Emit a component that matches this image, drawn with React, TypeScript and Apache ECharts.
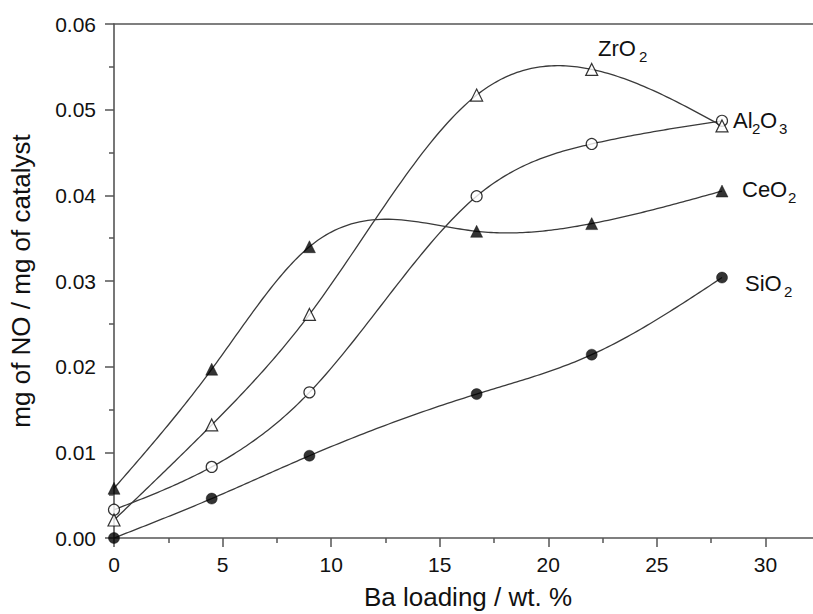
import React, { useEffect, useRef } from "react";
import * as echarts from "echarts";

// Ba loading (wt. %)
const loading = [0, 4.5, 9, 16.7, 22, 28];
// mg of NO / mg of catalyst
const zro2 = [0.0021, 0.0132, 0.0261, 0.0517, 0.0547, 0.0481];
const al2o3 = [0.0033, 0.0083, 0.017, 0.0399, 0.046, 0.0487];
const ceo2 = [0.0058, 0.0197, 0.034, 0.0358, 0.0367, 0.0405];
const sio2 = [0.0, 0.0046, 0.0096, 0.0168, 0.0214, 0.0304];

const seriesNames = ["ZrO2", "Al2O3", "CeO2", "SiO2"];
const xTicks = [0, 5, 10, 15, 20, 25, 30];
const yTicks = [0, 0.01, 0.02, 0.03, 0.04, 0.05, 0.06];

const FONT = "Liberation Sans, Arial, Helvetica, sans-serif";

// natural cubic spline through the measured points (drawing style of the curve)
function splineCurve(xs: number[], ys: number[], per = 40): number[][] {
  const n = xs.length;
  const h: number[] = [];
  for (let i = 0; i < n - 1; i++) h.push(xs[i + 1] - xs[i]);
  const M = new Array(n).fill(0);
  const a: number[] = [], b: number[] = [], c: number[] = [], r: number[] = [];
  for (let i = 1; i < n - 1; i++) {
    a.push(h[i - 1]);
    b.push(2 * (h[i - 1] + h[i]));
    c.push(h[i]);
    r.push(6 * ((ys[i + 1] - ys[i]) / h[i] - (ys[i] - ys[i - 1]) / h[i - 1]));
  }
  const m = r.length;
  for (let i = 1; i < m; i++) {
    const w = a[i] / b[i - 1];
    b[i] -= w * c[i - 1];
    r[i] -= w * r[i - 1];
  }
  const sol = new Array(m).fill(0);
  for (let i = m - 1; i >= 0; i--) {
    sol[i] = (r[i] - (i < m - 1 ? c[i] * sol[i + 1] : 0)) / b[i];
  }
  for (let i = 0; i < m; i++) M[i + 1] = sol[i];
  const out: number[][] = [];
  for (let i = 0; i < n - 1; i++) {
    const hi = h[i];
    for (let k = 0; k <= per; k++) {
      if (i > 0 && k === 0) continue;
      const x = xs[i] + (hi * k) / per;
      const A = xs[i + 1] - x;
      const B = x - xs[i];
      const y =
        (M[i] * A * A * A) / (6 * hi) +
        (M[i + 1] * B * B * B) / (6 * hi) +
        (ys[i] / hi - (M[i] * hi) / 6) * A +
        (ys[i + 1] / hi - (M[i + 1] * hi) / 6) * B;
      out.push([x, y]);
    }
  }
  return out;
}

function curveSeries(ys: number[]) {
  return {
    type: "custom",
    data: loading.map((x, i) => [x, ys[i]]),
    encode: { x: 0, y: 1 },
    z: 2,
    silent: true,
    renderItem: (params: any, api: any) => {
      if (params.dataIndex !== 0) return null;
      const pts = splineCurve(loading, ys).map((p) => api.coord(p));
      return {
        type: "polyline",
        shape: { points: pts },
        style: { stroke: "#3a3a3a", lineWidth: 1.3, fill: null },
      };
    },
  };
}

function markerSeries(name: string, ys: number[], symbol: string, filled: boolean, size: number) {
  return {
    name,
    type: "scatter",
    data: loading.map((x, i) => [x, ys[i]]),
    symbol,
    symbolSize: size,
    z: 5,
    itemStyle: filled
      ? { color: "#000", borderColor: "#000", borderWidth: 0.5 }
      : { color: "#fff", borderColor: "#000", borderWidth: 1.2 },
  };
}

function label(x: number, y: number, parts: { t: string; dx: number; sub: boolean }[]) {
  return parts.map((p) => ({
    type: "text",
    left: x + p.dx,
    top: p.sub ? y + 12 : y,
    z: 10,
    style: {
      text: p.t,
      fontSize: p.sub ? 15 : 22,
      fontFamily: FONT,
      fill: "#111",
    },
  }));
}

export default function App() {
  const ref = useRef<HTMLDivElement>(null);
  useEffect(() => {
    if (!ref.current) return;
    const chart = echarts.init(ref.current, undefined, { renderer: "svg" });
    const axisColor = "#555";
    chart.setOption({
      animation: false,
      backgroundColor: "#fff",
      grid: { left: 114, top: 24, width: 760, height: 514, containLabel: false, outerBoundsMode: "none" },
      xAxis: [
        {
          type: "value",
          min: 0,
          max: 35,
          interval: 5,
          name: "Ba loading / wt. %",
          nameLocation: "middle",
          nameGap: 46,
          nameTextStyle: { fontFamily: FONT, fontSize: 26, color: "#111", padding: [0, 52, 0, 0] },
          axisLine: { show: true, lineStyle: { color: axisColor, width: 1.6 } },
          axisTick: { show: true, inside: false, length: 9, lineStyle: { color: axisColor, width: 1.5 } },
          minorTick: { show: true, splitNumber: 2, length: 5, lineStyle: { color: axisColor, width: 1.5 } },
          axisLabel: {
            margin: 16,
            fontFamily: FONT,
            fontSize: 21,
            color: "#111",
            formatter: (v: number) => (xTicks.includes(v) ? String(v) : ""),
          },
          splitLine: { show: false },
        },
        {
          type: "value",
          position: "top",
          min: 0,
          max: 35,
          axisLine: { show: true, onZero: false, lineStyle: { color: axisColor, width: 1.6 } },
          axisTick: { show: false },
          axisLabel: { show: false },
          splitLine: { show: false },
        },
      ],
      yAxis: {
        type: "value",
        min: 0,
        max: 0.06,
        interval: 0.01,
        name: "mg of NO / mg of catalyst",
        nameLocation: "middle",
        nameGap: 80,
        nameRotate: 90,
        nameTextStyle: { fontFamily: FONT, fontSize: 26, color: "#111" },
        axisLine: { show: true, lineStyle: { color: axisColor, width: 1.6 } },
        axisTick: { show: true, inside: false, length: 9, lineStyle: { color: axisColor, width: 1.5 } },
        minorTick: { show: true, splitNumber: 2, length: 5, lineStyle: { color: axisColor, width: 1.5 } },
        axisLabel: {
          margin: 18,
          fontFamily: FONT,
          fontSize: 21,
          color: "#111",
          formatter: (v: number) => {
            const t = yTicks.find((k) => Math.abs(k - v) < 1e-9);
            return t === undefined ? "" : t.toFixed(2);
          },
        },
        splitLine: { show: false },
      },
      series: [
        curveSeries(zro2),
        curveSeries(al2o3),
        curveSeries(ceo2),
        curveSeries(sio2),
        markerSeries(seriesNames[1], al2o3, "circle", false, 11),
        markerSeries(seriesNames[0], zro2, "triangle", false, 12),
        markerSeries(seriesNames[2], ceo2, "triangle", true, 12),
        markerSeries(seriesNames[3], sio2, "circle", true, 11),
      ],
      graphic: [
        ...label(598, 37, [
          { t: "ZrO", dx: 0, sub: false },
          { t: "2", dx: 41, sub: true },
        ]),
        ...label(733, 109, [
          { t: "Al", dx: 0, sub: false },
          { t: "2", dx: 19, sub: true },
          { t: "O", dx: 27, sub: false },
          { t: "3", dx: 46, sub: true },
        ]),
        ...label(742, 178, [
          { t: "CeO", dx: 0, sub: false },
          { t: "2", dx: 46, sub: true },
        ]),
        ...label(745, 272, [
          { t: "SiO", dx: 0, sub: false },
          { t: "2", dx: 39, sub: true },
        ]),
      ],
    });
    return () => chart.dispose();
  }, []);
  return (
    <div
      ref={ref}
      style={{ position: "absolute", left: 0, top: 0, width: 813, height: 614, overflow: "hidden", background: "#fff" }}
    />
  );
}
